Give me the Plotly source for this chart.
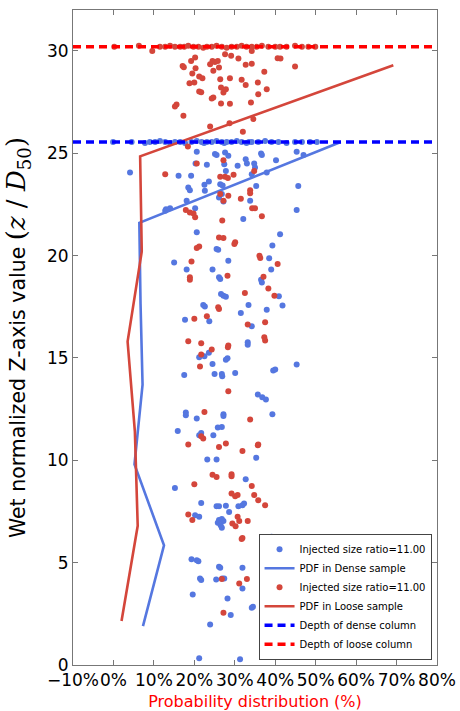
import plotly.graph_objects as go

# Column depths (normalized by D50)
dense_depth = 25.55
loose_depth = 30.2

# Injected particles, dense sample: (probability %, z/D50)
dense_x = [
    # particles resting at the dense column surface
    -0.1, 4.5, 7.8, 9.0, 10.3, 11.5, 12.8, 14.0, 15.2, 16.5, 17.7, 19.3, 20.6,
    21.8, 22.4, 23.1, 24.3, 25.5, 26.8, 27.4, 28.0, 29.2, 30.5, 31.7, 32.9,
    33.5, 34.2, 35.8, 37.5, 39.1, 40.8, 42.8, 44.9, 46.6, 48.6, 50.3,
    # particles inside the column
    20.6, 25.1, 25.5, 27.6, 28.4, 36.5, 36.7, 45.3, 47.0, 32.7, 33.0, 34.8,
    35.0, 40.2, 20.3, 23.1, 27.4, 30.7, 4.1, 16.1, 19.2, 27.8, 34.2, 37.9,
    18.5, 18.9, 22.5, 23.6, 22.6, 26.4, 27.0, 26.8, 26.1, 35.3, 45.7, 33.8,
    18.1, 20.2, 13.0, 14.0, 12.8, 27.2, 32.1, 45.3, 41.2, 20.6, 39.3, 25.5,
    25.9, 28.4, 38.5, 15.0, 18.1, 24.5, 39.0,
    26.1, 26.4, 36.5, 36.7, 26.6, 27.2, 27.8, 22.2, 22.6, 33.4, 37.9, 40.9,
    41.8, 31.5, 17.7, 23.7, 34.2, 33.2, 33.2, 23.6, 22.5, 21.2, 28.2, 27.8,
    24.5, 39.5, 40.0, 45.3, 17.5, 25.0, 26.8, 26.9, 30.1, 35.7, 36.8, 37.7,
    17.9, 17.9, 20.6, 27.2, 27.2, 39.3, 15.9, 21.7, 21.2, 24.7, 25.8, 26.8,
    23.2, 25.5, 35.3, 32.7, 15.2, 21.7, 25.5, 26.1, 27.8, 30.9, 31.9, 32.3,
    28.6, 20.2, 21.2, 26.1, 26.8, 27.2, 25.8, 26.5, 26.8,
    39.1, 40.4, 19.3, 20.6, 21.0, 26.1, 26.4, 31.9, 21.4, 21.7, 25.4, 26.9,
    27.4, 31.9, 19.6, 28.2, 34.2, 34.5, 29.0, 23.9, 37.1, 37.1, 21.2, 31.3,
]
dense_z = [
    25.55, 25.55, 25.5, 25.55, 25.55, 25.6, 25.55, 25.5, 25.55, 25.55, 25.5,
    25.55, 25.6, 25.55, 25.5, 25.55, 25.55, 25.6, 25.55, 25.5, 25.55, 25.55,
    25.6, 25.55, 25.5, 25.55, 25.55, 25.55, 25.6, 25.55, 25.55, 25.5, 25.55,
    25.55, 25.55, 25.55,
    25.07, 24.96, 24.92, 25.04, 24.88, 24.99, 24.92, 25.07, 24.92, 24.71,
    24.50, 24.50, 24.31, 24.66, 24.50, 24.44, 24.47, 24.39, 24.06, 23.90,
    23.90, 24.14, 23.98, 24.06, 23.33, 23.20, 23.46, 23.62, 23.17, 23.49,
    23.43, 23.01, 22.84, 23.40, 23.40, 22.68, 22.68, 22.32, 22.27, 22.32,
    22.19, 22.65, 21.79, 22.23, 21.05, 21.14, 20.49, 20.32, 20.29, 19.75,
    19.87, 19.67, 19.32, 19.32, 19.32,
    18.94, 18.86, 18.82, 18.69, 18.13, 18.04, 17.99, 17.59, 17.52, 17.59,
    17.36, 18.01, 17.56, 17.20, 16.87, 16.79, 16.55, 15.77, 15.64, 15.25,
    15.09, 15.04, 14.99, 14.91, 14.71, 14.39, 14.44, 14.68, 14.17, 14.22,
    14.22, 14.11, 14.27, 13.22, 13.08, 12.97,
    12.33, 12.20, 12.04, 12.25, 12.17, 12.25, 11.43, 11.34, 11.22, 11.22,
    11.60, 11.63, 10.04, 10.04, 10.12, 9.08, 8.65, 7.92, 7.76, 7.76, 7.78,
    7.76, 7.81, 7.89, 7.48, 7.32, 7.24, 7.08, 7.13, 7.04, 6.95, 6.83, 6.70,
    6.26, 6.10, 5.17, 5.12, 5.07, 4.80, 4.75, 4.75, 4.23, 4.15, 4.18, 4.23,
    4.23, 3.74, 3.45, 3.25, 2.80, 2.85, 2.44, 1.98, 2.11, 2.03, 0.33, 0.28,
]

# Injected particles, loose sample: (probability %, z/D50)
loose_x = [
    # particles resting at the loose column surface
    0.2, 6.3, 9.6, 11.5, 12.8, 14.0, 15.2, 16.5, 17.5, 18.5, 19.8, 21.0, 22.2,
    23.1, 24.3, 25.5, 26.8, 28.0, 29.2, 30.5, 31.7, 32.9, 34.2, 35.4, 36.7,
    38.3, 40.0, 41.2, 42.8, 44.9, 46.6, 48.2, 49.9,
    # particles inside the column
    27.6, 29.1, 30.9, 34.2, 40.6, 41.3, 20.2, 19.2, 17.1, 17.4, 20.3, 23.9,
    24.5, 25.1, 25.8, 26.1, 24.7, 32.7, 34.2, 44.9, 19.5, 21.2, 22.0, 26.4,
    28.8, 31.7, 32.7, 35.7, 37.3, 18.8, 20.0, 26.6, 27.8, 27.2, 21.2, 21.7,
    37.9, 35.8, 24.7, 24.3, 26.6, 28.8, 34.0, 15.6, 15.2, 17.3, 23.9, 28.7,
    34.6, 32.0, 18.4,
    20.6, 12.8, 27.2, 26.4, 27.6, 28.3, 29.7, 34.8, 26.4, 28.4, 27.2, 33.8,
    33.8, 31.5, 34.3, 35.0, 36.7, 17.9, 18.9, 19.8, 20.2, 26.9, 26.1, 27.2,
    30.1, 29.9, 21.2, 20.6, 36.1, 36.3, 19.3, 40.6,
    18.9, 18.9, 28.2, 37.1, 38.3, 32.5, 39.8, 25.9, 26.1, 23.1, 20.0, 33.2,
    37.5, 37.3, 37.5, 18.5, 21.7, 28.4, 28.3, 24.3, 21.7, 21.4, 28.4,
    22.5, 33.8, 21.7, 22.2, 18.5, 26.1, 27.8, 31.9, 35.7, 35.8, 24.5, 25.5,
    29.2, 29.2, 20.0, 34.2, 29.2, 30.1, 30.7, 34.8, 35.8, 37.5, 18.5, 19.5,
    30.7, 31.1, 33.2, 29.4, 30.2,
    31.9, 31.7, 26.8, 33.0, 31.1, 27.2,
]
loose_z = [
    30.2, 30.25, 30.0, 30.2, 30.2, 30.25, 30.2, 30.2, 30.2, 30.25, 30.2, 30.2,
    30.15, 30.2, 30.2, 30.25, 30.2, 30.15, 30.2, 30.2, 30.25, 30.2, 30.2,
    30.2, 30.25, 30.2, 30.2, 30.2, 30.2, 30.25, 30.2, 30.2, 30.2,
    29.84, 29.76, 29.63, 30.00, 29.64, 29.63, 29.68, 29.51, 29.27, 29.20,
    29.16, 29.35, 29.51, 29.46, 29.51, 29.19, 29.03, 29.32, 29.38, 29.24,
    28.90, 28.75, 28.67, 28.62, 28.67, 28.59, 28.33, 28.46, 28.98, 28.42,
    28.46, 28.21, 28.13, 27.97, 28.02, 27.98, 28.13, 27.89, 27.72, 27.68,
    27.43, 27.42, 27.48, 27.38, 27.29, 26.83, 26.31, 26.47, 26.67, 26.05,
    25.33,
    24.50, 23.98, 24.66, 23.85, 23.85, 23.79, 23.95, 24.14, 23.01, 22.92,
    22.68, 23.20, 23.05, 22.78, 22.32, 22.32, 21.92, 22.23, 22.11, 22.06,
    21.87, 21.71, 20.89, 20.86, 20.65, 20.57, 20.44, 20.37, 20.00, 19.88,
    19.71, 19.59,
    18.94, 18.82, 19.02, 18.97, 18.40, 18.17, 18.04, 17.48, 17.39, 17.04,
    16.91, 16.63, 16.74, 16.01, 15.85, 15.82, 15.72, 15.61, 15.52, 15.41,
    15.17, 14.58, 13.38,
    12.36, 11.99, 11.17, 11.06, 10.77, 10.65, 10.82, 10.46, 10.73, 10.77,
    9.29, 9.19, 9.32, 9.22, 8.83, 8.75, 8.38, 8.25, 8.30, 8.30, 8.05, 7.81,
    7.35, 7.08, 7.24, 7.04, 7.03, 6.91, 6.78,
    6.21, 6.15, 4.20, 4.20, 3.98, 2.55,
]

# Probability density profiles along the column height
dense_pdf_x = [7.3, 12.5, 5.2, 7.2, 6.7, 6.4, 56.2]
dense_pdf_z = [1.9, 5.85, 9.8, 13.7, 17.65, 21.6, 25.55]
loose_pdf_x = [2.0, 6.0, 5.3, 3.5, 7.0, 6.6, 69.2]
loose_pdf_z = [2.15, 6.8, 11.4, 15.8, 20.2, 24.85, 29.3]

x_range = [-10, 80]
y_range = [0, 32]

BLUE = "#5577e0"
RED = "#d4463b"
FONT = "DejaVu Sans"

fig = go.Figure()

fig.add_trace(go.Scatter(
    x=dense_x, y=dense_z, mode="markers", name="Injected size ratio=11.00",
    marker=dict(color=BLUE, size=6, line=dict(width=0)),
))
fig.add_trace(go.Scatter(
    x=dense_pdf_x, y=dense_pdf_z, mode="lines", name="PDF in Dense sample",
    line=dict(color=BLUE, width=2.6),
))
fig.add_trace(go.Scatter(
    x=loose_x, y=loose_z, mode="markers", name="Injected size ratio=11.00",
    marker=dict(color=RED, size=6, line=dict(width=0)),
))
fig.add_trace(go.Scatter(
    x=loose_pdf_x, y=loose_pdf_z, mode="lines", name="PDF in Loose sample",
    line=dict(color=RED, width=2.6),
))
fig.add_trace(go.Scatter(
    x=x_range, y=[dense_depth, dense_depth], mode="lines",
    name="Depth of dense column",
    line=dict(color="#0000ff", width=3.5, dash="8px,5px"),
))
fig.add_trace(go.Scatter(
    x=x_range, y=[loose_depth, loose_depth], mode="lines",
    name="Depth of loose column",
    line=dict(color="#ff0000", width=3.5, dash="8px,5px"),
))

axis_common = dict(
    showgrid=False, zeroline=False, showline=True, linecolor="#777",
    linewidth=1, mirror="allticks", ticks="inside", ticklen=5,
    tickcolor="#777", tickfont=dict(family=FONT, size=17, color="black"),
    automargin=False,
)

y_title = ("Wet normalized Z-axis value "
           "<span style='font-family:DejaVu Serif;font-size:26px'>"
           "(<i>z</i> / <i>D</i><sub>50</sub>)</span>")

fig.update_xaxes(
    range=x_range, dtick=10, tick0=0, ticksuffix="%", tickangle=0,
    title=dict(text="Probability distribution (%)",
               font=dict(family=FONT, size=16, color="#ff0000")),
    **axis_common,
)
fig.update_yaxes(
    range=y_range, dtick=5, tick0=0,
    title=dict(text=y_title, font=dict(family=FONT, size=20.5, color="black")),
    **axis_common,
)

fig.update_layout(
    width=460, height=711,
    margin=dict(l=73, r=23, t=10, b=46),
    paper_bgcolor="white", plot_bgcolor="white",
    font=dict(family=FONT),
    showlegend=True,
    legend=dict(
        x=0.985, xanchor="right", y=0.008, yanchor="bottom",
        bgcolor="white", bordercolor="#444", borderwidth=1,
        font=dict(family=FONT, size=10, color="black"),
        itemwidth=30, tracegroupgap=0,
    ),
)

fig.write_html("out.html")
